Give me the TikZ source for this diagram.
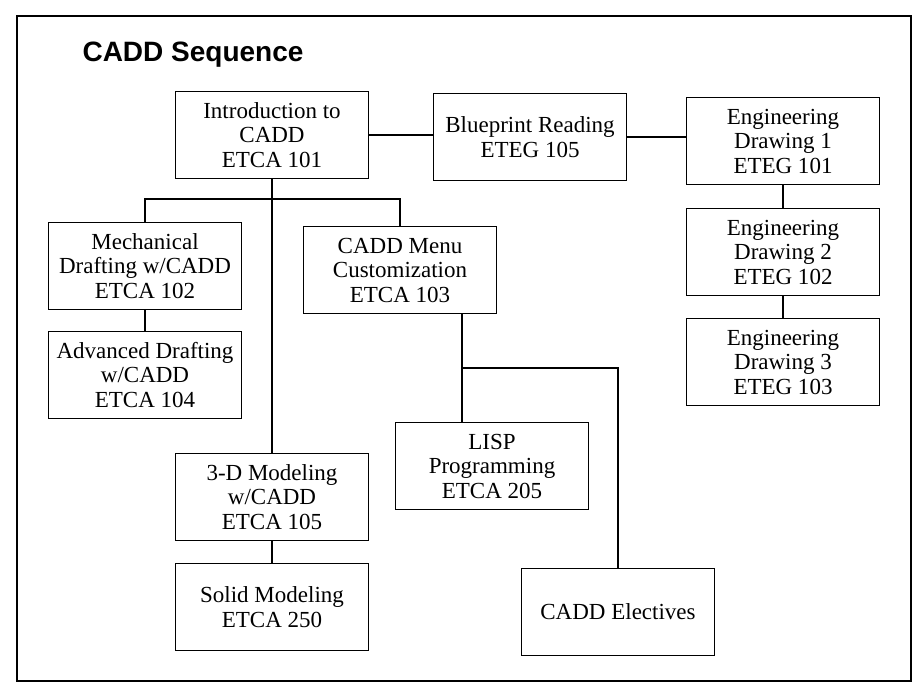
\documentclass[tikz,border=0pt]{standalone}
\usepackage{fontspec}
\setmainfont{Liberation Serif}
\newfontfamily\titlefont{Liberation Sans}
\begin{document}
\begin{tikzpicture}[x=1pt,y=-1pt,
  course/.style={draw=black,line width=1.4pt,minimum width=193pt,minimum height=87pt,
    inner sep=0pt,align=center,font=\fontsize{23}{24.5}\selectfont},
  link/.style={draw=black,line width=1.4pt}]
\useasboundingbox (0,0) rectangle (920,690);
\fill[white] (0,0) rectangle (920,690);
\draw[line width=2.4pt] (17,16) rectangle (911,681);
\node[anchor=base west,font=\titlefont\bfseries\fontsize{28}{30}\selectfont] (title) at (79,62) {CADD Sequence};
\node[course] (intro) at (272,135) {Introduction to\\CADD\\ETCA 101};
\node[course] (blue) at (530,137) {Blueprint Reading\\ETEG 105};
\node[course] (ed1) at (783,141) {Engineering\\Drawing 1\\ETEG 101};
\node[course] (ed2) at (783,252) {Engineering\\Drawing 2\\ETEG 102};
\node[course] (ed3) at (783,362) {Engineering\\Drawing 3\\ETEG 103};
\node[course] (mech) at (145,266) {Mechanical\\Drafting w/CADD\\ETCA 102};
\node[course] (menu) at (400,270) {CADD Menu\\Customization\\ETCA 103};
\node[course] (adv) at (145,375) {Advanced Drafting\\w/CADD\\ETCA 104};
\node[course] (threed) at (272,497) {3-D Modeling\\w/CADD\\ETCA 105};
\node[course] (solid) at (272,607) {Solid Modeling\\ETCA 250};
\node[course] (lisp) at (492,466) {LISP\\Programming\\ETCA 205};
\node[course] (elect) at (618,612) {CADD Electives};
\coordinate (br) at (272,199);
\coordinate (jx) at (462,368);
\coordinate (jr) at (618,368);
\draw[link] (intro.east) -- (intro.east -| blue.west);
\draw[link] (blue.east) -- (blue.east -| ed1.west);
\draw[link] (ed1.south) -- (ed2.north);
\draw[link] (ed2.south) -- (ed3.north);
\draw[link] (intro.south) -- (threed.north);
\draw[link] (threed.south) -- (solid.north);
\draw[link] (mech.north) -- (mech.north |- br) -- (menu.north |- br) -- (menu.north);
\draw[link] (mech.south) -- (adv.north);
\draw[link] (menu.south -| jx) -- (lisp.north -| jx);
\draw[link] (jx) -- (jr) -- (elect.north);
\end{tikzpicture}
\end{document}
